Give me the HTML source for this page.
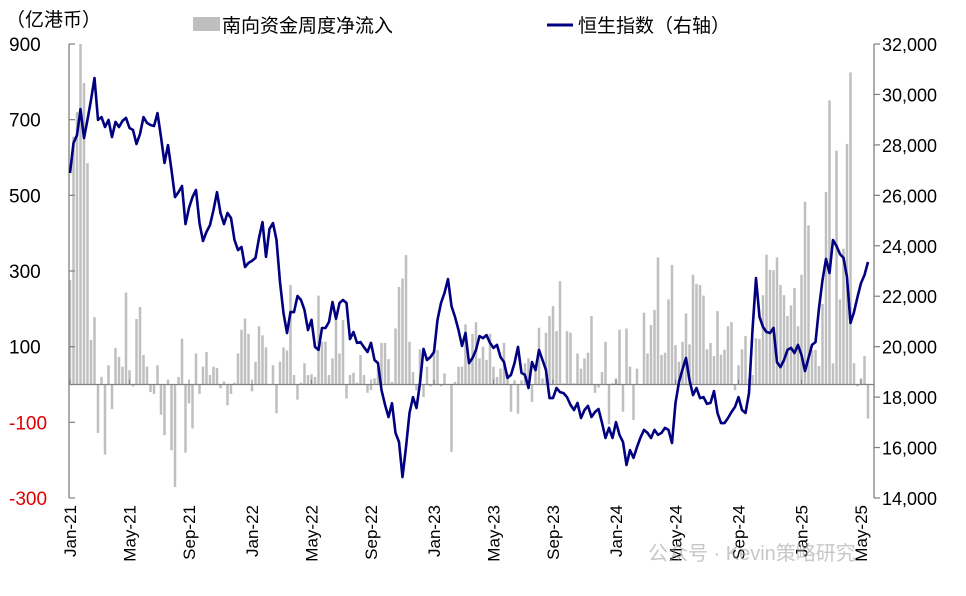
<!DOCTYPE html>
<html><head><meta charset="utf-8">
<style>
html,body{margin:0;padding:0;background:#fff;}
body{width:966px;height:591px;overflow:hidden;font-family:"Liberation Sans","Noto Sans CJK SC",sans-serif;}
</style></head>
<body>
<svg id="chart" width="966" height="591" viewBox="0 0 966 591" xmlns="http://www.w3.org/2000/svg" font-family="Liberation Sans, Noto Sans CJK SC, sans-serif">
<text x="6" y="26" font-size="19" fill="#000">（亿港币）</text>
<g>
<rect x="193" y="17" width="27" height="14" fill="#bfbfbf"/>
<text x="222" y="32" font-size="19" fill="#000">南向资金周度净流入</text>
<line x1="547" y1="25" x2="573" y2="25" stroke="#000080" stroke-width="3"/>
<text x="578" y="32" font-size="19" fill="#000">恒生指数（右轴）</text>
</g>
<g id="bars"></g>
<g id="axes"></g>
<g id="line"></g>
<text x="648" y="560" font-size="20" fill="#999" fill-opacity="0.55">公众号 · Kevin策略研究</text>
</svg>
<script>
const flows = [276,655,720,900,797,585,118,178,-128,20,-185,51,-65,97,73,47,243,38,-5,173,205,78,47,-20,-25,51,-80,-134,13,-174,-271,20,121,-180,-50,-116,82,-25,47,86,25,47,44,-10,8,-55,-25,5,82,145,174,134,-18,60,154,130,98,0,51,-76,60,98,90,263,25,-40,5,56,25,27,20,235,113,113,25,69,170,82,170,-37,25,31,5,78,
25,-22,-15,16,44,110,110,67,7,148,258,280,342,113,33,-15,93,-33,47,-5,91,91,-5,29,0,-178,7,47,47,159,60,134,165,69,100,65,134,47,20,42,110,29,-72,11,-77,11,56,69,-46,38,150,16,137,181,207,141,273,3,141,137,3,82,42,69,84,181,-22,-8,33,113,-105,3,16,145,-72,148,47,-94,42,
0,190,82,157,197,336,78,84,225,316,104,60,113,188,106,290,266,263,235,93,110,75,194,79,92,154,165,-15,51,93,128,16,25,122,120,236,343,303,302,336,263,236,181,209,255,154,290,483,421,91,91,49,213,509,751,56,618,225,359,636,825,56,-5,16,75,-90];
const hsi = [26885,28075,28390,29420,28270,29000,29780,30650,28990,29100,28710,28990,28310,28910,28710,28950,29070,28670,28590,28035,28430,29100,28870,28790,28750,29260,28310,27280,27990,27000,25930,26130,26370,24860,25500,25930,26210,24900,24190,24550,24820,25420,26130,25300,24860,25300,25100,24230,23830,23950,23160,23320,23400,23520,24310,24940,23560,24670,24900,24230,22560,21330,20540,21370,21370,22010,21850,21450,20660,21060,19990,19870,20740,20740,20980,21770,21100,21730,21850,21730,20300,20580,20150,
20180,19980,19790,20150,19470,19350,18280,17700,17210,17760,16580,16220,14830,16020,17370,18000,17570,18560,19910,19470,19590,19790,21060,21730,22130,22680,21610,21180,20660,20030,20540,19350,19550,19870,20420,20340,20460,20150,19950,20070,19590,19390,18760,18880,19350,19990,18960,18880,18360,19390,19070,19870,19470,19070,17960,17960,18360,18200,18160,18000,17690,17490,17770,17170,17490,17650,17210,17410,17530,16980,16380,16780,16380,17010,16500,16220,15310,15900,15590,16020,16400,16700,16580,16380,16700,16500,16580,16780,16700,16180,17770,18600,19100,19550,18680,18080,18360,17960,18000,17730,17770,18240,17370,16970,16970,17170,17410,17610,18000,17490,17370,18160,20660,22720,21180,20780,20580,20540,20740,19390,19190,19470,19870,19950,19750,20070,19670,19030,19550,20070,20180,21530,22640,23480,22920,24230,23990,23670,23520,22760,20940,21370,21970,22520,22840,23360];
const leftTicks = [900,700,500,300,100,-100,-300];
const rightTicks = [32000,30000,28000,26000,24000,22000,20000,18000,16000,14000];
const monthLabels = ["Jan-21","May-21","Sep-21","Jan-22","May-22","Sep-22","Jan-23","May-23","Sep-23","Jan-24","May-24","Sep-24","Jan-25","May-25"];
const monthWeeks = [0,17,34,52,69,86,104,121,138,156,173,191,209,226];

const NS="http://www.w3.org/2000/svg";
const X0=69, X1=874, YT=44, YB=498, STEP=3.5;
const xOf = i => X0 + 1 + i*STEP;
const yL = v => YT + (900 - v)/1200*(YB-YT);
const yR = v => YT + (32000 - v)/18000*(YB-YT);
function mk(tag, attrs, parent){const e=document.createElementNS(NS,tag);for(const k in attrs)e.setAttribute(k,attrs[k]);parent.appendChild(e);return e;}

const gb=document.getElementById('bars');
flows.forEach((v,i)=>{
  const y0=yL(0), y1=yL(v);
  const r=mk('rect',{x:xOf(i)-1.25,y:Math.min(y0,y1),width:2.5,height:Math.max(0.5,Math.abs(y1-y0)),fill:'#bfbfbf'},gb);
  
  
});

const ga=document.getElementById('axes');
let e;
e=mk('line',{x1:X0,y1:YT,x2:X0,y2:YB,stroke:'#808080','stroke-width':1.3},ga);


e=mk('line',{x1:X1,y1:YT,x2:X1,y2:YB,stroke:'#808080','stroke-width':1.3},ga);


e=mk('line',{x1:X0,y1:yL(0),x2:X1,y2:yL(0),stroke:'#808080','stroke-width':1.3},ga);


leftTicks.forEach(v=>{
  const y=yL(v);
  const t=mk('line',{x1:X0,y1:y,x2:X0+6,y2:y,stroke:'#808080','stroke-width':1.2},ga);
  
  
  const l=mk('text',{x:9,y:y+7,'font-size':19,fill:v<0?'#e00000':'#000'},ga);
  l.textContent=String(v);
  
  
});
rightTicks.forEach(v=>{
  const y=yR(v);
  const t=mk('line',{x1:X1,y1:y,x2:X1+6,y2:y,stroke:'#808080','stroke-width':1.2},ga);
  
  
  const l=mk('text',{x:882,y:y+7,'font-size':18,fill:'#000'},ga);
  l.textContent=v.toLocaleString('en-US');
  
  
});
monthLabels.forEach((m,k)=>{
  const x=xOf(monthWeeks[k]);
  const t=mk('line',{x1:x,y1:yL(0)-5,x2:x,y2:yL(0),stroke:'#808080','stroke-width':1},ga);
  
  
  const l=mk('text',{x:0,y:0,'font-size':17,fill:'#000','text-anchor':'end',transform:`translate(${x+6},505) rotate(-90)`},ga);
  l.textContent=m;
  
  
});

const gl=document.getElementById('line');
const pts=hsi.map((v,i)=>xOf(i).toFixed(1)+','+yR(v).toFixed(1)).join(' ');
const pl=mk('polyline',{points:pts,fill:'none',stroke:'#000080','stroke-width':2.6,'stroke-linejoin':'round'},gl);


</script>
</body></html>
